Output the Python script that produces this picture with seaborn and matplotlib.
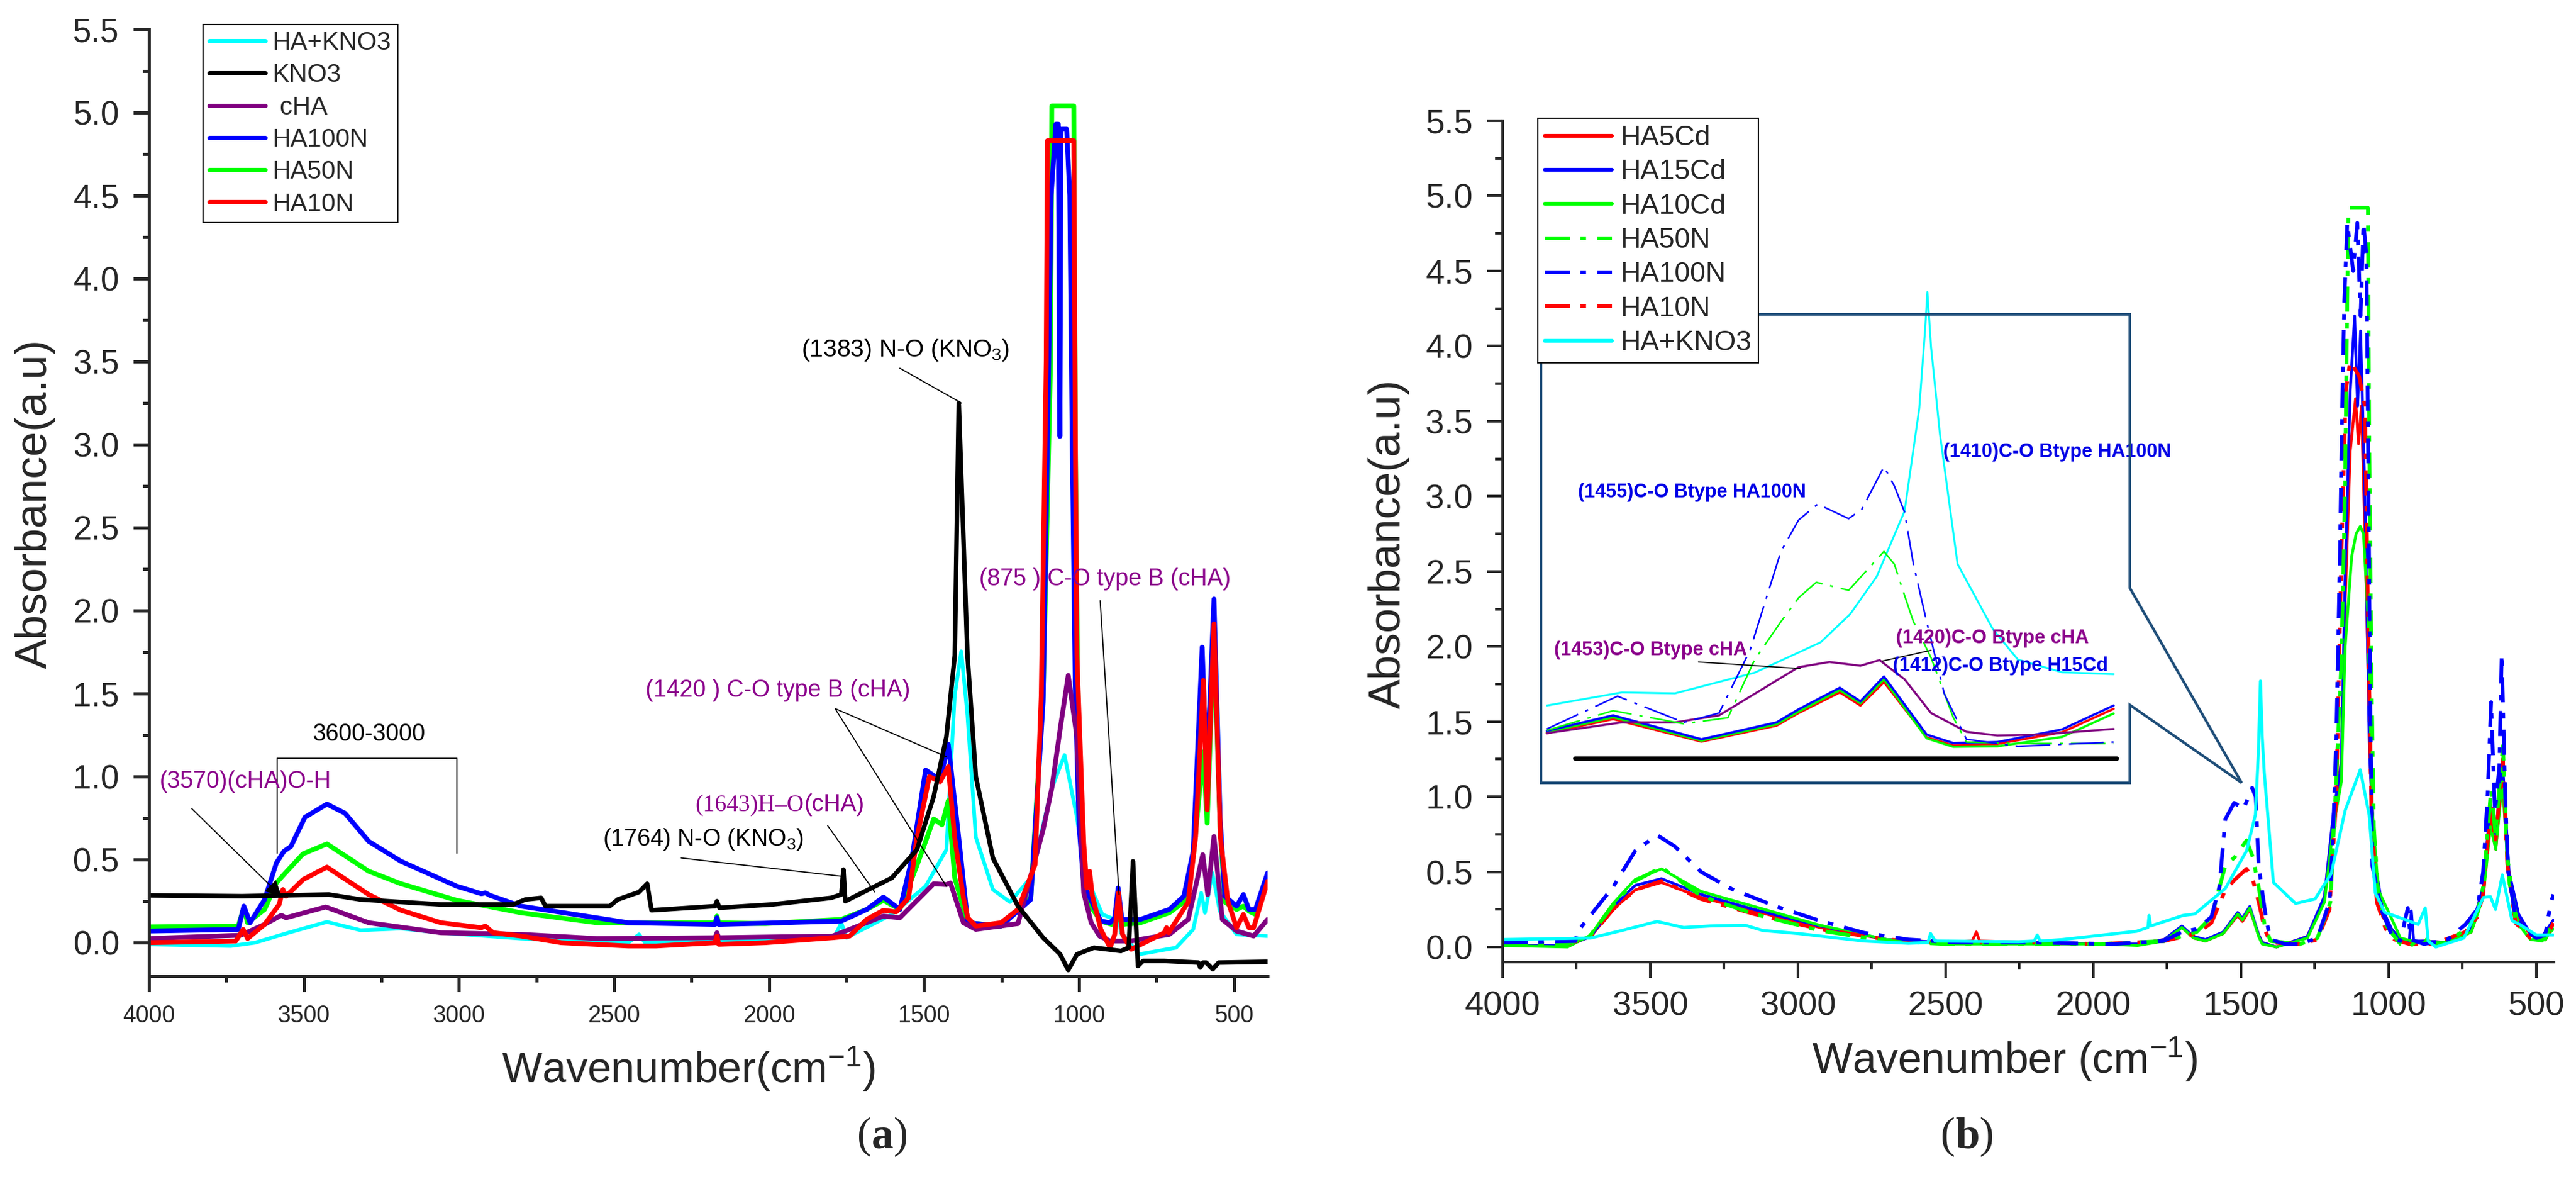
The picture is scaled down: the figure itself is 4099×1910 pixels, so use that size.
import pandas as pd
import matplotlib
matplotlib.use("Agg")
import matplotlib.pyplot as plt
import seaborn as sns
from matplotlib import font_manager
from matplotlib.lines import Line2D
from matplotlib.offsetbox import TextArea, HPacker, AnnotationBbox
from matplotlib.ticker import MultipleLocator, FormatStrFormatter

# ==========================================
# Panel (a): FTIR spectra, (wavenumber cm-1, absorbance)
# ==========================================
a_kno3 = [(4000, 0.285), (3700, 0.28), (3420, 0.29), (3317, 0.26), (3058, 0.23), (2825, 0.23),
          (2786, 0.26), (2735, 0.27), (2721, 0.22), (2697, 0.22), (2514, 0.22), (2488, 0.26),
          (2419, 0.305), (2393, 0.355), (2379, 0.195), (2174, 0.22), (2168, 0.25), (2160, 0.21),
          (1990, 0.23), (1800, 0.27), (1767, 0.29), (1760, 0.44), (1754, 0.25), (1604, 0.39),
          (1523, 0.56), (1469, 0.88), (1428, 1.24), (1401, 1.73), (1388, 3.25), (1360, 1.73),
          (1333, 1.0), (1278, 0.51), (1197, 0.22), (1116, 0.03), (1061, -0.07), (1035, -0.165),
          (1007, -0.07), (952, -0.03), (865, -0.05), (840, -0.03), (826, 0.49), (810, -0.14),
          (794, -0.11), (725, -0.11), (615, -0.12), (609, -0.15), (600, -0.12), (590, -0.12),
          (569, -0.16), (550, -0.12), (392, -0.115)]
a_ha10n = [(4000, 0.0), (3720, 0.01), (3696, 0.08), (3682, 0.025), (3627, 0.11), (3580, 0.23),
           (3568, 0.32), (3558, 0.28), (3503, 0.38), (3426, 0.455), (3291, 0.29), (3187, 0.195),
           (3058, 0.12), (2928, 0.09), (2915, 0.10), (2890, 0.06), (2800, 0.04), (2670, 0.0),
           (2454, -0.02), (2364, -0.02), (2174, 0.0), (2168, 0.04), (2162, -0.01), (2012, 0.0),
           (1795, 0.03), (1740, 0.04), (1685, 0.14), (1631, 0.195), (1590, 0.185), (1550, 0.27),
           (1523, 0.63), (1483, 1.0), (1448, 0.97), (1422, 1.06), (1401, 0.63), (1373, 0.27),
           (1359, 0.15), (1333, 0.10), (1252, 0.12), (1197, 0.2), (1142, 0.47), (1122, 1.49),
           (1106, 3.5), (1102, 4.83), (1017, 4.83), (1012, 3.0), (1007, 1.73), (985, 0.6),
           (975, 0.33), (966, 0.43), (958, 0.29), (930, 0.08), (900, -0.03), (885, 0.05),
           (873, 0.30), (860, 0.05), (832, -0.04), (725, 0.06), (718, 0.09), (711, 0.06),
           (648, 0.245), (624, 0.64), (599, 1.58), (587, 0.80), (565, 1.92), (544, 0.63),
           (520, 0.25), (492, 0.09), (470, 0.17), (452, 0.09), (437, 0.09), (392, 0.37)]
a_ha50n = [(4000, 0.095), (3712, 0.10), (3694, 0.21), (3682, 0.12), (3627, 0.20), (3589, 0.36),
           (3565, 0.41), (3503, 0.535), (3426, 0.595), (3291, 0.43), (3187, 0.355), (3007, 0.255),
           (2800, 0.18), (2555, 0.12), (2174, 0.12), (2168, 0.16), (2162, 0.12), (2012, 0.115),
           (1767, 0.14), (1685, 0.20), (1631, 0.255), (1578, 0.20), (1523, 0.465), (1469, 0.745),
           (1442, 0.71), (1422, 0.855), (1401, 0.39), (1359, 0.12), (1252, 0.10), (1156, 0.27),
           (1116, 1.49), (1092, 3.5), (1088, 5.04), (1017, 5.04), (1012, 3.0), (1005, 1.6),
           (990, 0.6), (972, 0.245), (930, 0.13), (895, 0.11), (873, 0.15), (860, 0.11),
           (802, 0.12), (709, 0.18), (662, 0.245), (632, 0.51), (599, 1.15), (587, 0.72),
           (565, 1.85), (545, 0.7), (530, 0.245), (492, 0.2), (470, 0.22), (452, 0.19),
           (431, 0.17), (392, 0.37)]
a_ha100n = [(4000, 0.07), (3712, 0.08), (3694, 0.22), (3674, 0.12), (3627, 0.26), (3589, 0.48),
            (3565, 0.55), (3542, 0.58), (3497, 0.755), (3426, 0.835), (3368, 0.78), (3291, 0.61),
            (3187, 0.49), (3007, 0.34), (2928, 0.295), (2915, 0.30), (2900, 0.285), (2800, 0.22),
            (2454, 0.12), (2174, 0.11), (2168, 0.15), (2162, 0.11), (1767, 0.13), (1685, 0.20),
            (1631, 0.275), (1578, 0.2), (1540, 0.5), (1495, 1.04), (1448, 0.98), (1422, 1.195),
            (1388, 0.63), (1359, 0.12), (1252, 0.10), (1156, 0.26), (1116, 1.45), (1098, 3.5),
            (1090, 4.5), (1075, 4.93), (1067, 4.93), (1062, 3.05), (1058, 4.9), (1040, 4.9),
            (1030, 4.5), (1022, 3.0), (1012, 1.5), (1000, 0.7), (985, 0.35), (960, 0.25),
            (930, 0.13), (900, 0.12), (885, 0.15), (874, 0.33), (862, 0.14), (802, 0.14),
            (709, 0.2), (662, 0.28), (632, 0.55), (603, 1.78), (588, 1.0), (565, 2.07),
            (545, 0.75), (530, 0.28), (492, 0.22), (470, 0.29), (452, 0.2), (431, 0.2), (392, 0.42)]
a_cha = [(4000, 0.025), (3704, 0.045), (3627, 0.11), (3573, 0.165), (3558, 0.15), (3430, 0.215),
         (3291, 0.12), (3058, 0.06), (2800, 0.05), (2555, 0.025), (2174, 0.03), (2168, 0.06),
         (2162, 0.03), (1795, 0.04), (1631, 0.16), (1578, 0.15), (1469, 0.355), (1428, 0.35),
         (1415, 0.36), (1373, 0.12), (1333, 0.08), (1197, 0.115), (1116, 0.68), (1088, 0.93),
         (1060, 1.3), (1035, 1.61), (1007, 1.24), (985, 0.3), (961, 0.12), (934, 0.04),
         (900, 0.01), (833, 0.01), (709, 0.05), (648, 0.14), (601, 0.53), (585, 0.29),
         (565, 0.64), (538, 0.14), (492, 0.07), (437, 0.04), (392, 0.14)]
a_ha_kno3 = [(4000, -0.01), (3736, -0.02), (3658, 0.0), (3550, 0.06), (3426, 0.125), (3317, 0.075),
             (3187, 0.085), (3058, 0.06), (2800, 0.025), (2454, 0.0), (2419, 0.05), (2400, 0.0),
             (1790, 0.03), (1767, 0.12), (1750, 0.03), (1604, 0.17), (1495, 0.34), (1428, 0.56),
             (1401, 1.49), (1380, 1.755), (1360, 1.37), (1333, 0.635), (1278, 0.32), (1223, 0.245),
             (1156, 0.39), (1088, 0.93), (1047, 1.13), (1007, 0.755), (980, 0.415), (925, 0.17),
             (885, 0.14), (875, 0.22), (865, 0.06), (806, -0.07), (687, -0.03), (632, 0.08),
             (606, 0.30), (594, 0.18), (570, 0.42), (546, 0.19), (492, 0.05), (392, 0.04)]

# ==========================================
# Panel (b): spectra
# ==========================================
b_ha5cd = [(4000, 0.01), (3780, 0.01), (3702, 0.07), (3626, 0.25), (3551, 0.38), (3462, 0.43),
           (3328, 0.33), (3149, 0.24), (2926, 0.13), (2700, 0.05), (2500, 0.03), (2410, 0.04),
           (2396, 0.10), (2385, 0.04), (2200, 0.03), (1972, 0.02), (1850, 0.02), (1760, 0.05),
           (1700, 0.13), (1660, 0.06), (1620, 0.04), (1560, 0.09), (1511, 0.21), (1495, 0.17),
           (1470, 0.25), (1440, 0.08), (1428, 0.03), (1380, 0.0), (1275, 0.07), (1217, 0.33),
           (1187, 0.87), (1160, 1.2), (1147, 2.3), (1130, 3.3), (1112, 3.65), (1102, 3.35),
           (1092, 3.6), (1078, 2.6), (1062, 1.2), (1045, 0.5), (1020, 0.2), (990, 0.12),
           (960, 0.05), (930, 0.03), (880, 0.04), (800, 0.03), (720, 0.1), (680, 0.35),
           (655, 0.85), (637, 0.65), (615, 1.15), (592, 0.45), (560, 0.2), (520, 0.08),
           (480, 0.06), (442, 0.15)]
b_ha15cd = [(4000, 0.01), (3780, 0.01), (3702, 0.07), (3626, 0.27), (3551, 0.41), (3462, 0.455),
            (3328, 0.35), (3149, 0.25), (2926, 0.14), (2700, 0.05), (2500, 0.03), (2200, 0.03),
            (1972, 0.02), (1850, 0.02), (1760, 0.05), (1700, 0.14), (1660, 0.07), (1620, 0.05),
            (1560, 0.1), (1511, 0.23), (1495, 0.19), (1470, 0.27), (1440, 0.08), (1428, 0.03),
            (1380, 0.0), (1275, 0.07), (1217, 0.34), (1187, 0.89), (1160, 1.23), (1147, 2.5),
            (1130, 3.7), (1115, 4.2), (1105, 3.6), (1095, 4.1), (1080, 3.0), (1065, 1.3),
            (1045, 0.55), (1020, 0.25), (990, 0.12), (960, 0.05), (930, 0.03), (923, 0.24),
            (915, 0.04), (880, 0.04), (800, 0.03), (720, 0.12), (680, 0.4), (655, 0.95),
            (637, 0.75), (615, 1.25), (592, 0.5), (560, 0.22), (520, 0.09), (480, 0.07), (442, 0.18)]
b_ha10cd = [(4000, 0.01), (3780, 0.0), (3702, 0.08), (3626, 0.29), (3551, 0.45), (3462, 0.52),
            (3328, 0.37), (3149, 0.27), (2926, 0.145), (2700, 0.05), (2500, 0.02), (2200, 0.02),
            (1972, 0.02), (1850, 0.01), (1760, 0.04), (1700, 0.13), (1660, 0.06), (1620, 0.04),
            (1560, 0.09), (1511, 0.22), (1495, 0.18), (1470, 0.26), (1440, 0.07), (1428, 0.02),
            (1380, 0.0), (1275, 0.06), (1217, 0.3), (1187, 0.8), (1160, 1.1), (1147, 2.0),
            (1125, 2.6), (1110, 2.75), (1096, 2.8), (1085, 2.75), (1070, 2.2), (1055, 0.9),
            (1035, 0.38), (990, 0.19), (960, 0.06), (900, 0.03), (880, 0.03), (800, 0.03),
            (720, 0.1), (680, 0.33), (655, 0.8), (637, 0.65), (615, 1.1), (592, 0.42),
            (560, 0.15), (520, 0.05), (480, 0.04), (442, 0.12)]
b_ha10n = [(4000, 0.02), (3780, 0.02), (3702, 0.07), (3626, 0.25), (3551, 0.38), (3462, 0.44),
           (3328, 0.32), (3149, 0.22), (2926, 0.12), (2700, 0.05), (2500, 0.03), (2200, 0.03),
           (1972, 0.02), (1760, 0.04), (1650, 0.09), (1600, 0.16), (1553, 0.38), (1520, 0.45),
           (1481, 0.52), (1460, 0.45), (1440, 0.3), (1420, 0.12), (1400, 0.03), (1300, 0.02),
           (1241, 0.05), (1200, 0.25), (1177, 1.0), (1160, 2.6), (1145, 3.7), (1130, 3.9),
           (1100, 3.8), (1080, 3.6), (1068, 2.0), (1058, 0.9), (1040, 0.3), (1010, 0.12),
           (980, 0.05), (930, 0.02), (850, 0.02), (740, 0.1), (700, 0.2), (680, 0.35),
           (653, 0.95), (638, 0.7), (613, 1.25), (598, 0.55), (570, 0.16), (520, 0.06),
           (470, 0.05), (442, 0.16)]
b_ha50n = [(4000, 0.02), (3780, 0.02), (3702, 0.08), (3626, 0.28), (3551, 0.44), (3462, 0.53),
           (3328, 0.34), (3149, 0.22), (2926, 0.11), (2700, 0.04), (2500, 0.02), (2200, 0.02),
           (1972, 0.02), (1760, 0.04), (1650, 0.1), (1600, 0.2), (1553, 0.54), (1520, 0.6),
           (1481, 0.71), (1460, 0.6), (1440, 0.4), (1420, 0.15), (1400, 0.04), (1300, 0.02),
           (1241, 0.06), (1197, 0.3), (1180, 1.0), (1160, 1.9), (1148, 3.0), (1140, 4.3),
           (1136, 4.92), (1070, 4.92), (1066, 3.5), (1058, 1.8), (1050, 0.8), (1035, 0.35),
           (1010, 0.15), (980, 0.07), (960, 0.02), (930, 0.0), (900, 0.05), (880, 0.06),
           (850, 0.02), (800, 0.03), (740, 0.12), (700, 0.22), (680, 0.4), (653, 1.05),
           (638, 0.75), (613, 1.34), (598, 0.6), (570, 0.18), (520, 0.06), (470, 0.05), (442, 0.18)]
b_ha100n = [(4000, 0.03), (3753, 0.04), (3747, 0.10), (3626, 0.40), (3551, 0.64), (3477, 0.745),
            (3417, 0.67), (3328, 0.50), (3223, 0.385), (3074, 0.27), (2926, 0.175), (2777, 0.095),
            (2626, 0.05), (2454, 0.03), (2200, 0.03), (1936, 0.02), (1762, 0.04), (1700, 0.1),
            (1650, 0.12), (1600, 0.2), (1573, 0.4), (1553, 0.85), (1523, 0.96), (1491, 0.92),
            (1462, 1.06), (1450, 1.0), (1440, 0.54), (1415, 0.19), (1400, 0.05), (1350, 0.02),
            (1300, 0.02), (1241, 0.06), (1200, 0.3), (1189, 0.7), (1177, 1.4), (1165, 2.6),
            (1158, 3.5), (1150, 4.3), (1140, 4.82), (1120, 4.5), (1106, 4.82), (1095, 4.2),
            (1085, 4.82), (1075, 4.6), (1068, 3.0), (1062, 1.6), (1055, 0.54), (1025, 0.25),
            (983, 0.05), (960, 0.04), (935, 0.26), (925, 0.05), (880, 0.02), (800, 0.05),
            (740, 0.15), (700, 0.25), (680, 0.5), (665, 1.0), (653, 1.63), (640, 0.9),
            (625, 1.2), (617, 1.95), (605, 1.0), (595, 0.5), (570, 0.2), (540, 0.12),
            (500, 0.06), (470, 0.08), (451, 0.29), (442, 0.35)]
b_ha_kno3 = [(4000, 0.05), (3702, 0.06), (3596, 0.11), (3477, 0.17), (3387, 0.13), (3298, 0.14),
             (3179, 0.145), (3119, 0.11), (3000, 0.09), (2777, 0.04), (2626, 0.025), (2560, 0.03),
             (2551, 0.09), (2535, 0.04), (2253, 0.035), (2200, 0.04), (2190, 0.08), (2180, 0.04),
             (2104, 0.05), (1853, 0.105), (1815, 0.13), (1811, 0.21), (1806, 0.14), (1696, 0.21),
             (1656, 0.22), (1553, 0.39), (1481, 0.64), (1451, 0.88), (1441, 1.3), (1434, 1.77),
             (1428, 1.4), (1421, 1.16), (1390, 0.43), (1315, 0.29), (1249, 0.32), (1194, 0.49),
             (1147, 0.91), (1096, 1.18), (1066, 0.88), (1045, 0.36), (1013, 0.23), (940, 0.18),
             (900, 0.15), (876, 0.26), (866, 0.04), (840, 0.0), (745, 0.06), (679, 0.33),
             (655, 0.335), (638, 0.25), (615, 0.48), (582, 0.175), (556, 0.15), (500, 0.08), (442, 0.08)]

# inset of panel (b): 1650-1250 cm-1, relative intensity
in_ha_kno3 = [(1646, 0.165), (1595, 0.193), (1559, 0.191), (1505, 0.235), (1460, 0.30), (1440, 0.36),
              (1422, 0.44), (1403, 0.58), (1393, 0.80), (1389, 0.97), (1387.5, 1.048), (1385, 0.93),
              (1379, 0.745), (1367, 0.467), (1343, 0.328), (1326, 0.263), (1296, 0.236), (1261, 0.232)]
in_cha = [(1646, 0.106), (1595, 0.129), (1559, 0.129), (1529, 0.144), (1475, 0.247), (1454, 0.258),
          (1433, 0.25), (1420, 0.262), (1403, 0.221), (1385, 0.149), (1361, 0.109), (1340, 0.101),
          (1311, 0.103), (1261, 0.115)]
in_ha15cd = [(1646, 0.111), (1601, 0.144), (1541, 0.093), (1490, 0.129), (1475, 0.157), (1447, 0.203),
             (1433, 0.174), (1417, 0.227), (1388, 0.103), (1370, 0.085), (1340, 0.087), (1296, 0.114),
             (1261, 0.165)]
in_ha5cd = [(1646, 0.106), (1601, 0.136), (1541, 0.088), (1490, 0.122), (1475, 0.149), (1447, 0.193),
            (1433, 0.165), (1417, 0.215), (1388, 0.097), (1370, 0.08), (1340, 0.083), (1296, 0.108),
            (1261, 0.158)]
in_ha10cd = [(1646, 0.108), (1601, 0.140), (1541, 0.090), (1490, 0.125), (1475, 0.152), (1447, 0.198),
             (1433, 0.17), (1417, 0.221), (1388, 0.095), (1370, 0.077), (1340, 0.078), (1296, 0.098),
             (1261, 0.148)]
in_ha100n = [(1646, 0.115), (1598, 0.185), (1553, 0.129), (1529, 0.149), (1508, 0.283), (1487, 0.494),
             (1475, 0.561), (1462, 0.595), (1441, 0.564), (1432, 0.584), (1417, 0.675), (1410, 0.634),
             (1403, 0.578), (1397, 0.467), (1388, 0.344), (1376, 0.19), (1361, 0.093), (1326, 0.078),
             (1261, 0.087)]
in_ha50n = [(1646, 0.112), (1601, 0.154), (1553, 0.126), (1523, 0.139), (1505, 0.262), (1487, 0.344),
            (1475, 0.395), (1463, 0.428), (1441, 0.411), (1417, 0.494), (1410, 0.467), (1403, 0.40),
            (1397, 0.344), (1385, 0.267), (1370, 0.14), (1361, 0.087), (1326, 0.084), (1261, 0.084)]
in_baseline = [(1627, 0.052), (1259, 0.052)]

legend_a = ["HA+KNO3", "KNO3", " cHA", "HA100N", "HA50N", "HA10N"]
legend_b = ["HA5Cd", "HA15Cd", "HA10Cd", "HA50N", "HA100N", "HA10N", "HA+KNO3"]
x_ticks = [4000, 3500, 3000, 2500, 2000, 1500, 1000, 500]

# ==========================================
# Style
# ==========================================
sns.set_theme(style="ticks")
plt.rcParams["font.family"] = ["Liberation Sans", "DejaVu Sans"]
plt.rcParams["mathtext.fontset"] = "custom"
plt.rcParams["mathtext.rm"] = "Liberation Sans"
plt.rcParams["mathtext.it"] = "Liberation Sans:italic"
plt.rcParams["mathtext.bf"] = "Liberation Sans:bold"


def has_font(name):
    try:
        font_manager.findfont(font_manager.FontProperties(family=name), fallback_to_default=False)
        return True
    except ValueError:
        return False


NARROW = "Liberation Sans Narrow" if has_font("Liberation Sans Narrow") else "Liberation Sans"
WIDE = NARROW == "Liberation Sans"

CYAN, BLUE, GREEN, RED, PURPLE, BLACK = "#00FFFF", "#0000FF", "#00FF00", "#FF0000", "#800080", "#000000"
ANN_PURPLE = "#8B008B"
INSET_EDGE = "#1F4E79"
DD = (0, (6.7, 2.8, 1.5, 3.0))
DD_THIN = (0, (22, 5, 2, 5))

W, H = 4099, 1910


def fx(px):
    return px / W


def fy(py):
    return 1 - py / H


def draw(ax, pts, color, lw, dashes=None, clip=True):
    df = pd.DataFrame(pts, columns=["wn", "A"])
    sns.lineplot(data=df, x="wn", y="A", ax=ax, color=color, linewidth=lw,
                 sort=False, estimator=None, legend=False)
    line = ax.lines[-1]
    if dashes is not None:
        line.set_linestyle(dashes)
    line.set_clip_on(clip)
    return line


def style_axis(ax, xlim, ylim, xsize, ysize, spine_w, minor_len):
    ax.set_xlim(*xlim)
    ax.set_ylim(*ylim)
    ax.xaxis.set_major_locator(MultipleLocator(500))
    ax.xaxis.set_minor_locator(MultipleLocator(250))
    ax.yaxis.set_major_locator(MultipleLocator(0.5))
    ax.yaxis.set_minor_locator(MultipleLocator(0.25))
    ax.yaxis.set_major_formatter(FormatStrFormatter("%.1f"))
    ax.xaxis.set_major_formatter(FormatStrFormatter("%d"))
    ax.set_xlabel("")
    ax.set_ylabel("")
    sns.despine(ax=ax)
    for s in ("left", "bottom"):
        ax.spines[s].set_linewidth(spine_w)
    ax.tick_params(axis="both", which="major", direction="out", length=18, width=spine_w)
    ax.tick_params(axis="both", which="minor", direction="out", length=minor_len, width=spine_w)
    ax.tick_params(axis="x", labelsize=xsize, pad=15)
    ax.tick_params(axis="y", labelsize=ysize, pad=16)


fig = plt.figure(figsize=(W / 100, H / 100), dpi=100)

# ==========================================
# Panel (a)
# ==========================================
ax1 = fig.add_axes([fx(237), fy(1552), fx(2017) - fx(237), fy(47) - fy(1552)])
draw(ax1, a_ha_kno3, CYAN, 4.3)
draw(ax1, a_ha50n, GREEN, 5.5)
draw(ax1, a_ha100n, BLUE, 5.5)
draw(ax1, a_cha, PURPLE, 5.5)
draw(ax1, a_ha10n, RED, 5.5)
draw(ax1, a_kno3, BLACK, 5.2)
style_axis(ax1, (4000, 392), (-0.2, 5.5), 27, 38, 3.6, 7)
ax1.set_xticks(x_ticks)

txt = dict(fontsize=27)
ax1.text(3291, 1.255, "3600-3000", ha="center", va="center", color=BLACK, **txt)
ax1.plot([3587, 3587, 3007, 3007], [0.54, 1.11, 1.11, 0.54], color=BLACK, lw=1.3)
ax1.text(3966, 0.97, "(3570)(cHA)O-H", ha="left", va="center", color=ANN_PURPLE, **txt)
ax1.annotate("", xy=(3568, 0.27), xytext=(3866, 0.815),
             arrowprops=dict(arrowstyle="-|>", color=BLACK, lw=1.3, mutation_scale=40))
ax1.text(2537, 0.62, "(1764) N-O (KNO$_3$)", ha="left", va="center", color=BLACK, **txt)
ax1.plot([2283, 1767], [0.51, 0.40], color=BLACK, lw=1.3)
h_o = HPacker(children=[
    TextArea("(1643)H\u2013O", textprops=dict(color=ANN_PURPLE, fontsize=27, family="Liberation Serif")),
    TextArea("(cHA)", textprops=dict(color=ANN_PURPLE, fontsize=27, family="Liberation Sans"))],
    align="baseline", pad=0, sep=0)
ax1.add_artist(AnnotationBbox(h_o, (2237, 0.83), xycoords="data", box_alignment=(0, 0.5),
                              frameon=False, pad=0))
ax1.plot([1811, 1659], [0.705, 0.305], color=BLACK, lw=1.3)
ax1.text(2399, 1.52, "(1420 ) C-O type B (cHA)", ha="left", va="center", color=ANN_PURPLE, **txt)
ax1.plot([1428, 1787, 1428], [1.12, 1.41, 0.34], color=BLACK, lw=1.3)
ax1.text(1323, 2.19, "(875 ) C-O type B (cHA)", ha="left", va="center", color=ANN_PURPLE, **txt)
ax1.plot([932, 871], [2.06, 0.29], color=BLACK, lw=1.3)
ax1.text(1896, 3.57, "(1383) N-O (KNO$_3$)", ha="left", va="center", color=BLACK,
         fontsize=28 if WIDE else 33, family=NARROW)
ax1.plot([1578, 1379], [3.46, 3.25], color=BLACK, lw=1.3)

# ==========================================
# Panel (b)
# ==========================================
ax2 = fig.add_axes([fx(2391), fy(1530), fx(4064) - fx(2391), fy(192) - fy(1530)])
draw(ax2, b_ha5cd, RED, 3.2)
draw(ax2, b_ha15cd, BLUE, 3.2)
draw(ax2, b_ha10cd, GREEN, 3.2)
draw(ax2, b_ha10n, RED, 4.3, DD)
draw(ax2, b_ha50n, GREEN, 4.3, DD)
draw(ax2, b_ha100n, BLUE, 4.3, DD)
draw(ax2, b_ha_kno3, CYAN, 3.5)
style_axis(ax2, (4000, 440), (-0.1, 5.5), 39, 39, 3.0, 8.5)
ax2.set_xticks(x_ticks)

# inset
axi = fig.add_axes([fx(2452), fy(1245), fx(3389) - fx(2452), fy(500) - fy(1245)])
axi.set_axis_off()
draw(axi, in_ha_kno3, CYAN, 2.2, clip=False)
draw(axi, in_ha5cd, RED, 2.6)
draw(axi, in_ha10cd, GREEN, 2.6)
draw(axi, in_ha15cd, BLUE, 2.6)
draw(axi, in_cha, PURPLE, 2.4)
draw(axi, in_ha50n, GREEN, 1.8, DD_THIN)
draw(axi, in_ha100n, BLUE, 1.8, DD_THIN)
draw(axi, in_baseline, BLACK, 5)
axi.set_xlim(1650, 1250)
axi.set_ylim(0, 1)
axi.set_xlabel("")
axi.set_ylabel("")

ib = dict(fontsize=22 if WIDE else 26, fontweight="bold", family=NARROW, va="center", ha="left")
axi.text(1377, 0.706, "(1410)C-O Btype HA100N", color="#0000E6", **ib)
axi.text(1625, 0.62, "(1455)C-O Btype HA100N", color="#0000E6", **ib)
axi.text(1409, 0.309, "(1420)C-O Btype cHA", color=ANN_PURPLE, **ib)
axi.text(1641, 0.283, "(1453)C-O Btype cHA", color=ANN_PURPLE, **ib)
axi.text(1411, 0.25, "(1412)C-O Btype H15Cd", color="#0000E6", **ib)
axi.plot([1543, 1474], [0.258, 0.244], color=BLACK, lw=1.3)
axi.plot([1418, 1385], [0.26, 0.283], color=BLACK, lw=1.3)

# callout frame around the inset
frame_px = [(2452, 500), (3389, 500), (3389, 935), (3567, 1245), (3389, 1121),
            (3389, 1245), (2452, 1245), (2452, 500)]
fig.add_artist(Line2D([fx(p[0]) for p in frame_px], [fy(p[1]) for p in frame_px],
                      transform=fig.transFigure, color=INSET_EDGE, lw=3, solid_joinstyle="miter"))

# ==========================================
# Legends, labels
# ==========================================
handles_a = [Line2D([], [], color=c, lw=5) for c in (CYAN, BLACK, PURPLE, BLUE, GREEN, RED)]
leg_a = fig.legend(handles_a, legend_a, loc="upper left", bbox_to_anchor=(fx(323), fy(39)),
                   bbox_transform=fig.transFigure, fontsize=29, frameon=True, fancybox=False,
                   edgecolor=BLACK, framealpha=1, handlelength=2.2, handletextpad=0.3,
                   labelspacing=0.33, borderpad=0.25, borderaxespad=0)
leg_a.get_frame().set_linewidth(1.5)

handles_b = [Line2D([], [], color=RED, lw=4.3), Line2D([], [], color=BLUE, lw=4.3),
             Line2D([], [], color=GREEN, lw=4.3), Line2D([], [], color=GREEN, lw=4.3, ls=DD),
             Line2D([], [], color=BLUE, lw=4.3, ls=DD), Line2D([], [], color=RED, lw=4.3, ls=DD),
             Line2D([], [], color=CYAN, lw=4.3)]
leg_b = fig.legend(handles_b, legend_b, loc="upper left", bbox_to_anchor=(fx(2447), fy(188)),
                   bbox_transform=fig.transFigure, fontsize=32, frameon=True, fancybox=False,
                   edgecolor=BLACK, framealpha=1, handlelength=2.4, handletextpad=0.3,
                   labelspacing=0.3, borderpad=0.25, borderaxespad=0)
leg_b.get_frame().set_linewidth(1.5)

fig.text(fx(56), fy(801), "Absorbance(a.u)", rotation=90, fontsize=51, ha="center", va="center")
fig.text(fx(2210), fy(865), "Absorbance(a.u)", rotation=90, fontsize=51, ha="center", va="center")
fig.text(fx(1095), fy(1700), "Wavenumber(cm$^{-1}$)", fontsize=49, ha="center", va="center")
fig.text(fx(3190), fy(1685), "Wavenumber (cm$^{-1}$)", fontsize=49, ha="center", va="center")


def panel_tag(letter, px, py):
    serif = dict(fontsize=50, family="Liberation Serif")
    box = HPacker(children=[TextArea("(", textprops=serif),
                            TextArea(letter, textprops=dict(serif, fontweight="bold")),
                            TextArea(")", textprops=serif)], align="baseline", pad=0, sep=0)
    fig.add_artist(AnnotationBbox(box, (fx(px), fy(py)), xycoords="figure fraction",
                                  box_alignment=(0.5, 0.5), frameon=False, pad=0))


panel_tag("a", 1404, 1808)
panel_tag("b", 3130, 1808)

fig.savefig("out.png", dpi=100)
